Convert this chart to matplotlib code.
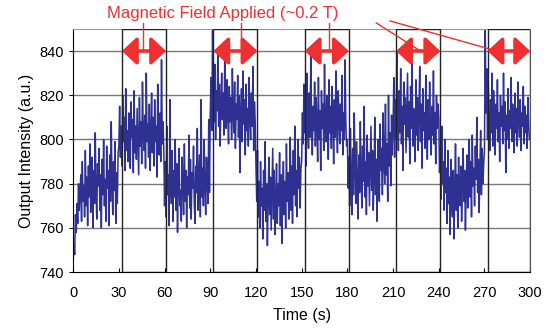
import numpy as np
from matplotlib import pyplot as plt
from matplotlib.patches import Rectangle

plt.rcParams['font.family'] = ['Liberation Sans', 'DejaVu Sans']

# output intensity, one value every 0.5 s, in 30 s blocks (off / on alternating)
off_1 = [745, 752, 748, 766, 758, 771, 762, 780, 768, 775, 784, 763, 790, 772, 779,
         765, 795, 770, 783, 761, 788, 774, 798, 767, 781, 792, 760, 786, 771, 803,
         776, 764, 789, 779, 796, 768, 784, 760, 791, 775, 800, 770, 782, 763, 797,
         778, 786, 761, 793, 772, 808, 780, 766, 790, 777, 799, 762, 785, 771, 794]
on_1 = [797, 815, 792, 806, 788, 820, 799, 810, 786, 823, 795, 804, 790, 812, 798,
        787, 817, 801, 809, 785, 822, 794, 806, 791, 814, 800, 784, 819, 797, 808,
        789, 826, 803, 795, 811, 787, 830, 799, 807, 792, 816, 786, 802, 821, 794,
        810, 788, 818, 799, 806, 783, 825, 801, 793, 812, 790, 836, 798, 808, 795]
off_2 = [770, 790, 765, 806, 775, 784, 761, 818, 779, 771, 795, 763, 786, 774, 800,
         768, 789, 758, 781, 796, 770, 777, 763, 792, 780, 766, 798, 772, 786, 760,
         783, 775, 802, 769, 791, 764, 785, 778, 797, 771, 762, 788, 776, 805, 768,
         782, 793, 765, 818, 774, 787, 770, 800, 779, 766, 792, 783, 771, 809, 776]
on_2 = [812, 828, 804, 850, 818, 808, 834, 800, 822, 813, 840, 806, 825, 797, 817,
        830, 809, 821, 802, 836, 815, 805, 827, 811, 798, 824, 808, 819, 800, 832,
        812, 803, 826, 796, 816, 809, 829, 801, 820, 785, 813, 823, 799, 831, 807,
        818, 793, 825, 804, 814, 797, 828, 810, 800, 821, 806, 833, 795, 817, 808]
off_3 = [788, 772, 795, 765, 781, 760, 790, 770, 778, 755, 786, 768, 799, 763, 780,
         752, 774, 792, 766, 783, 759, 777, 796, 764, 786, 757, 771, 789, 762, 780,
         770, 794, 761, 784, 753, 776, 790, 766, 781, 760, 798, 772, 785, 764, 779,
         801, 768, 788, 762, 795, 775, 806, 770, 786, 765, 800, 778, 792, 769, 787]
on_3 = [790, 812, 798, 825, 803, 817, 788, 830, 806, 796, 821, 801, 838, 810, 793,
        815, 804, 826, 797, 819, 808, 790, 828, 800, 813, 786, 822, 805, 816, 795,
        834, 807, 799, 820, 810, 791, 827, 803, 815, 796, 824, 809, 789, 818, 801,
        831, 806, 794, 822, 811, 798, 816, 804, 829, 793, 812, 800, 836, 808, 797]
off_4 = [800, 778, 792, 770, 805, 783, 766, 796, 775, 812, 787, 771, 799, 780, 764,
         793, 776, 808, 785, 769, 797, 781, 815, 774, 790, 766, 802, 779, 794, 770,
         788, 806, 777, 795, 768, 784, 810, 775, 791, 763, 800, 782, 772, 807, 786,
         796, 775, 812, 790, 780, 816, 784, 798, 772, 820, 788, 803, 779, 811, 793]
on_4 = [806, 828, 792, 818, 800, 840, 810, 795, 822, 803, 832, 798, 815, 786, 826,
        807, 819, 794, 812, 830, 801, 817, 789, 824, 805, 836, 797, 814, 808, 790,
        827, 802, 819, 795, 811, 833, 799, 816, 787, 823, 804, 812, 796, 829, 808,
        791, 818, 800, 826, 806, 793, 815, 802, 831, 798, 812, 789, 820, 805, 816]
off_5 = [810, 785, 797, 773, 806, 780, 790, 768, 800, 776, 787, 762, 795, 771, 783,
         757, 791, 774, 765, 786, 755, 779, 798, 768, 784, 760, 792, 775, 770, 788,
         763, 781, 796, 772, 786, 759, 778, 793, 769, 783, 800, 774, 790, 765, 802,
         779, 787, 770, 797, 782, 810, 776, 791, 767, 788, 804, 775, 796, 780, 789]
on_5 = [795, 850, 812, 832, 800, 826, 808, 795, 818, 803, 830, 797, 822, 810, 793,
        816, 805, 827, 799, 812, 790, 820, 806, 815, 798, 830, 804, 817, 785, 811,
        800, 823, 796, 813, 805, 828, 799, 816, 808, 794, 821, 803, 814, 797, 826,
        810, 801, 818, 795, 812, 806, 824, 798, 815, 803, 811, 796, 819, 807, 800]

intensity = np.array(off_1 + on_1 + off_2 + on_2 + off_3 + on_3 + off_4 + on_4 + off_5 + on_5)
time = np.arange(len(intensity)) * 0.5

# field-on windows (s)
field_on = [(32, 61), (92, 121), (152, 181), (212, 241), (272, 300)]

red = '#ee3030'
blue = '#2e3192'

my_dpi = 100
fig = plt.figure(figsize=(546 / my_dpi, 336 / my_dpi), dpi=my_dpi)
ax = fig.add_axes([0.134, 0.19, 0.837, 0.724])

for y in [760, 780, 800, 820, 840]:
    ax.axhline(y, color='#7a7a7a', lw=1, zorder=0)

ax.plot(time, intensity, color=blue, lw=1.1, zorder=2)

for t0, t1 in field_on:
    ax.add_patch(Rectangle((t0, 740), t1 - t0, 110, fill=False, ec='#222222', lw=1, zorder=3))

ax.set_xlim(0, 300)
ax.set_ylim(740, 850)
ax.set_xticks(np.arange(0, 301, 30))
ax.set_yticks(np.arange(740, 841, 20))
ax.tick_params(axis='x', direction='in', length=3, labelsize=10.5, pad=10)
ax.tick_params(axis='y', direction='out', length=3, labelsize=10.5)
ax.spines['top'].set_color('#9a9a9a')
ax.spines['right'].set_color('#555555')
ax.set_xlabel('Time (s)', fontsize=11.5, labelpad=6)
ax.set_ylabel('Output Intensity (a.u.)', fontsize=11.5)

# pointer lines from the label to the arrows
pointers = [((46, 852.5), (46, 840)), ((110, 852.5), (110, 840)), ((168, 852.5), (168, 840)),
            ((199, 852.7), (228, 840)), ((208, 853.6), (278, 840))]
for (x0, y0), (x1, y1) in pointers:
    ax.plot([x0, x1], [y0, y1], color=red, lw=1, clip_on=False, zorder=4)

for t0, t1 in field_on:
    ax.annotate('', xy=(t1, 840), xytext=(t0, 840),
                arrowprops=dict(arrowstyle='<|-|>,head_length=0.45,head_width=0.42',
                                color=red, lw=2.6, mutation_scale=20,
                                shrinkA=0, shrinkB=0),
                zorder=5, annotation_clip=False)

ax.text(98, 856.8, 'Magnetic Field Applied (~0.2 T)', color=red, fontsize=12,
        ha='center', va='center', clip_on=False)

fig.savefig('out.png', dpi=my_dpi)
